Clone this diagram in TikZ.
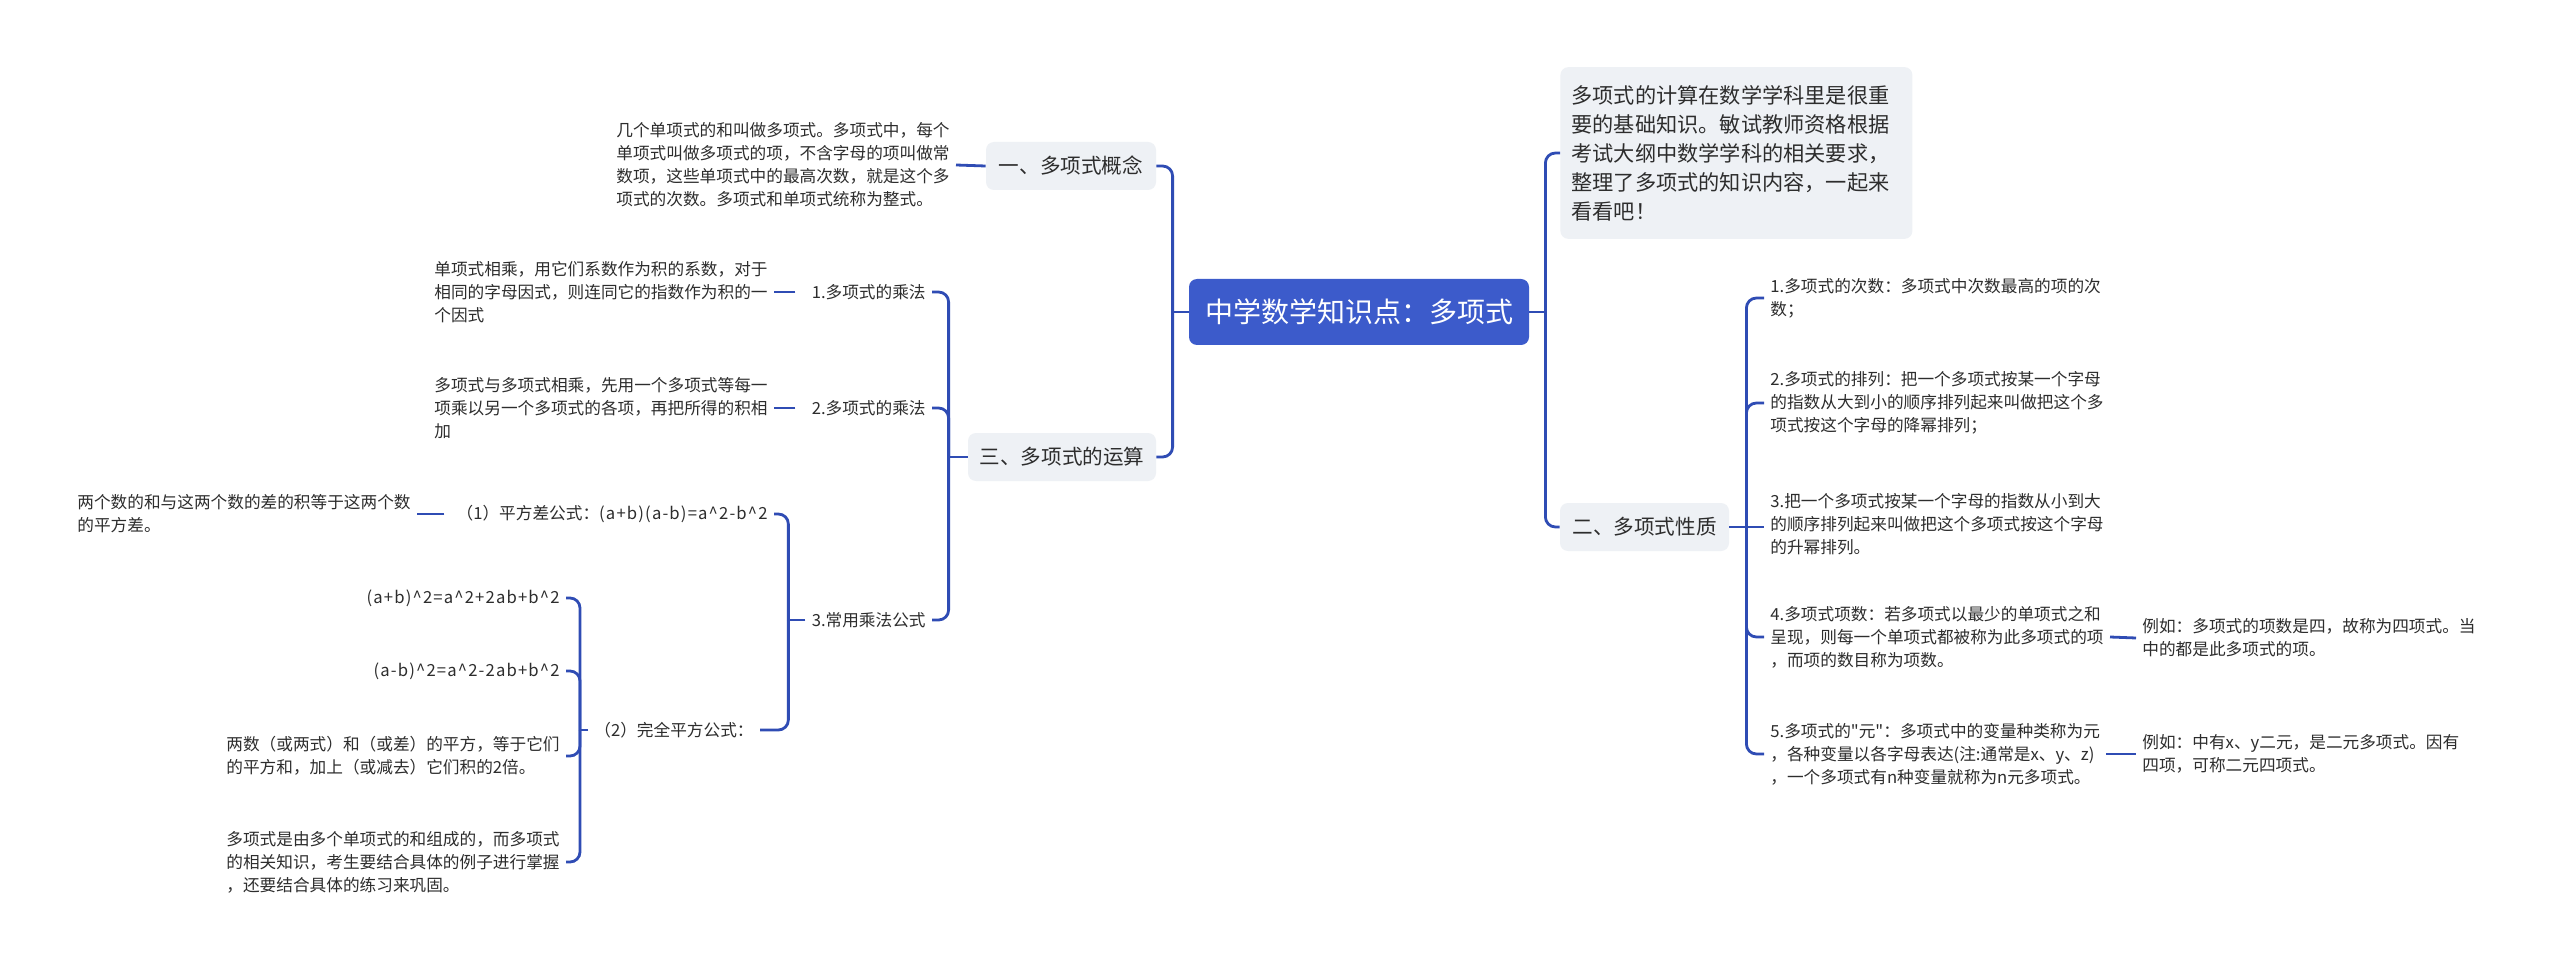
\documentclass[tikz,border=0pt]{standalone}
\usepackage{fontspec}
\setmainfont{Noto Sans CJK SC}[Ligatures=TeXOff]
\usetikzlibrary{calc}
\definecolor{linec}{RGB}{47,76,180}
\definecolor{rootc}{RGB}{60,91,203}
\definecolor{boxc}{RGB}{238,241,245}
\definecolor{txtc}{RGB}{45,45,45}
\newcommand{\crt}{\textasciicircum}
\newcommand{\wideltr}[1]{{\addfontfeature{LetterSpace=7}#1}}
\begin{document}
\begin{tikzpicture}[x=0.5pt,y=-0.5pt,
  conn/.style={draw=linec, line width=1.4pt, rounded corners=5pt},
  rootbox/.style={fill=rootc, draw=none, rounded corners=4pt, text=white,
    font=\fontsize{14pt}{16pt}\selectfont, minimum width=170pt, minimum height=33pt, inner sep=0pt},
  lvbox/.style={fill=boxc, draw=none, rounded corners=4pt, text=txtc,
    font=\fontsize{10.3pt}{12pt}\selectfont, minimum height=24pt, inner sep=0pt},
  leaf/.style={text=txtc, font=\fontsize{8.33pt}{11.5pt}\selectfont, align=left, inner sep=3pt},
]
\useasboundingbox (0,0) rectangle (2560,973);
\fill[white] (0,0) rectangle (2560,973);

% root
\node[rootbox] (root) at (1359,312) {中学数学知识点：多项式};

% level 1
\node[lvbox, minimum width=85pt] (c1) at (1071,166) {一、多项式概念};
\node[lvbox, minimum width=94pt] (c3) at (1062,457) {三、多项式的运算};
\node[lvbox, minimum width=84.5pt] (s2) at (1644.5,527) {二、多项式性质};
\node[lvbox, anchor=west, text width=165pt, inner xsep=5.5pt, inner ysep=9pt, align=left,
  font=\fontsize{10.6pt}{14.5pt}\selectfont] (intro) at (1560,153)
  {多项式的计算在数学学科里是很重\\要的基础知识。敏试教师资格根据\\考试大纲中数学学科的相关要求，\\整理了多项式的知识内容，一起来\\看看吧！};

% left leaves
\node[leaf, anchor=east] (d0) at (956,165) {几个单项式的和叫做多项式。多项式中，每个\\单项式叫做多项式的项，不含字母的项叫做常\\数项，这些单项式中的最高次数，就是这个多\\项式的次数。多项式和单项式统称为整式。};
\node[leaf, anchor=east] (m1) at (932,292) {1.多项式的乘法};
\node[leaf, anchor=east] (d1) at (774,292) {单项式相乘，用它们系数作为积的系数，对于\\相同的字母因式，则连同它的指数作为积的一\\个因式};
\node[leaf, anchor=east] (m2) at (932,408) {2.多项式的乘法};
\node[leaf, anchor=east] (d2) at (774,408) {多项式与多项式相乘，先用一个多项式等每一\\项乘以另一个多项式的各项，再把所得的积相\\加};
\node[leaf, anchor=east] (m3) at (932,620) {3.常用乘法公式};
\node[leaf, anchor=east] (p1) at (774,514) {（1）平方差公式：\wideltr{(a+b)(a-b)=a\crt 2-b\crt 2}};
\node[leaf, anchor=east] (p1d) at (417,514) {两个数的和与这两个数的差的积等于这两个数\\的平方差。};
\node[leaf, anchor=east] (p2) at (760,730) {（2）完全平方公式：};
\node[leaf, anchor=east] (q1) at (566,598) {\wideltr{(a+b)\crt 2=a\crt 2+2ab+b\crt 2}};
\node[leaf, anchor=east] (q2) at (566,671) {\wideltr{(a-b)\crt 2=a\crt 2-2ab+b\crt 2}};
\node[leaf, anchor=east] (q3) at (566,756) {两数（或两式）和（或差）的平方，等于它们\\的平方和，加上（或减去）它们积的2倍。};
\node[leaf, anchor=east] (q4) at (566,862) {多项式是由多个单项式的和组成的，而多项式\\的相关知识，考生要结合具体的例子进行掌握\\，还要结合具体的练习来巩固。};

% right leaves
\node[leaf, anchor=west] (r1) at (1764,298) {1.多项式的次数：多项式中次数最高的项的次\\数；};
\node[leaf, anchor=west] (r2) at (1764,403) {2.多项式的排列：把一个多项式按某一个字母\\的指数从大到小的顺序排列起来叫做把这个多\\项式按这个字母的降幂排列；};
\node[leaf, anchor=west] (r3) at (1764,524) {3.把一个多项式按某一个字母的指数从小到大\\的顺序排列起来叫做把这个多项式按这个字母\\的升幂排列。};
\node[leaf, anchor=west] (r4) at (1764,637) {4.多项式项数：若多项式以最少的单项式之和\\呈现，则每一个单项式都被称为此多项式的项\\，而项的数目称为项数。};
\node[leaf, anchor=west] (r5) at (1764,754) {5.多项式的"元"：多项式中的变量种类称为元\\，各种变量以各字母表达(注:通常是x、y、z)\\，一个多项式有n种变量就称为n元多项式。};
\node[leaf, anchor=west] (e4) at (2136,638) {例如：多项式的项数是四，故称为四项式。当\\中的都是此多项式的项。};
\node[leaf, anchor=west] (e5) at (2136,754) {例如：中有x、y二元，是二元多项式。因有\\四项，可称二元四项式。};

% connectors: root
\draw[conn] (root.west) -- ++(-8pt,0) coordinate (rl);
\draw[conn] (rl) |- (c1.east);
\draw[conn] (rl) |- (c3.east);
\draw[conn] (root.east) -- ++(8pt,0) coordinate (rr);
\draw[conn] (rr) |- (intro.west);
\draw[conn] (rr) |- (s2.west);

% 一
\draw[conn] (c1.west) -- (d0.east);

% 三
\draw[conn] (c3.west) -- ++(-9.5pt,0) coordinate (c3l);
\draw[conn] (c3l) |- (m1.east);
\draw[conn] (c3l) |- (m2.east);
\draw[conn] (c3l) |- (m3.east);
\draw[conn, shorten <=5pt] (m1.west) -- (d1.east);
\draw[conn, shorten <=5pt] (m2.west) -- (d2.east);
\draw[conn] (m3.west) -- ++(-8.5pt,0) coordinate (m3l);
\draw[conn] (m3l) |- (p1.east);
\draw[conn] (m3l) |- (p2.east);
\draw[conn, shorten <=3pt] (p1.west) -- (p1d.east);
\path (p2.west -| q1.east) ++(7pt,0) coordinate (p2l);
\draw[conn] (p2.west) -- (p2l);
\draw[conn] (p2l) |- (q1.east);
\draw[conn] (p2l) |- (q2.east);
\draw[conn] (p2l) |- (q3.east);
\draw[conn] (p2l) |- (q4.east);

% 二
\draw[conn] (s2.east) -- ++(8.5pt,0) coordinate (s2r);
\draw[conn] (s2r) |- (r1.west);
\draw[conn] (s2r) |- (r2.west);
\draw[conn] (s2r) -- (s2r -| r3.west);
\draw[conn] (s2r) |- (r4.west);
\draw[conn] (s2r) |- (r5.west);
\draw[conn] (r4.east) -- (e4.west);
\draw[conn] (r5.east) -- (e5.west);
\end{tikzpicture}
\end{document}
